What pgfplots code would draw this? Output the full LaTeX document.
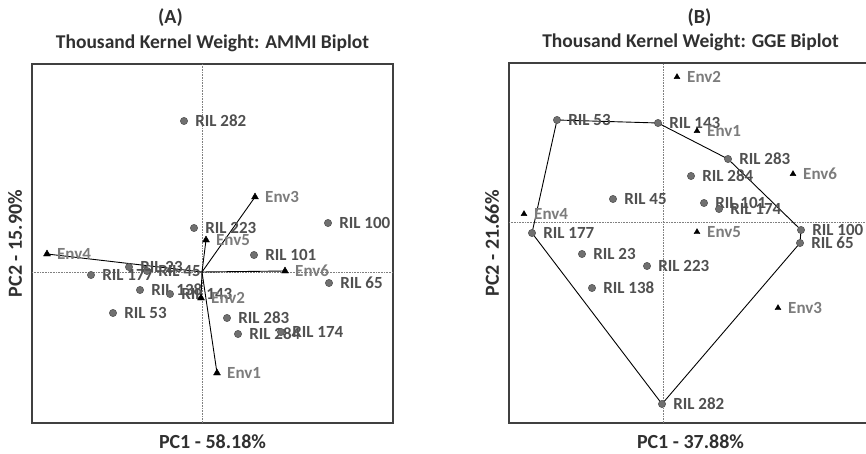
\documentclass[border=0pt]{standalone}
\usepackage{pgfplots}
\usepackage{pgfplotstable}
\pgfplotsset{compat=1.18}
\usepackage{fontspec}
\setmainfont{Carlito}
\definecolor{rilc}{HTML}{505050}
\definecolor{envc}{HTML}{7C7C7C}
\definecolor{dotf}{HTML}{707070}
\definecolor{dotd}{HTML}{555555}
\definecolor{framec}{HTML}{404040}
\definecolor{titc}{HTML}{303030}

\pgfplotstableread[col sep=comma]{
x,y,label
-1.8,15.1,RIL 282
-0.8,4.4,RIL 223
12.6,4.9,RIL 100
5.2,1.7,RIL 101
-7.3,0.5,RIL 23
-5.5,0.1,RIL 45
-11.1,-0.3,RIL 177
12.7,-1.1,RIL 65
-6.2,-1.8,RIL 138
-3.2,-2.2,RIL 143
-8.9,-4.1,RIL 53
2.5,-4.6,RIL 283
3.6,-6.2,RIL 284
7.9,-6.0,RIL 174
}\amGen
\pgfplotstableread[col sep=comma]{
x,y,label
5.3,7.5,Env3
0.4,3.2,Env5
-15.5,1.8,Env4
8.3,0.1,Env6
-0.1,-2.6,Env2
1.5,-10.1,Env1
}\amEnv
\pgfplotstableread[col sep=comma]{
x,y,label
-10.6,10.2,RIL 53
-0.5,9.9,RIL 143
6.5,6.3,RIL 283
2.8,4.6,RIL 284
-5.0,2.3,RIL 45
4.1,1.9,RIL 101
5.6,1.3,RIL 174
-13.1,-1.1,RIL 177
13.8,-0.8,RIL 100
13.7,-2.1,RIL 65
-8.1,-3.2,RIL 23
-1.6,-4.4,RIL 223
-7.1,-6.6,RIL 138
-0.1,-18.2,RIL 282
}\ggGen
\pgfplotstableread[col sep=comma]{
x,y,label
1.4,14.5,Env2
3.4,9.1,Env1
13.0,4.8,Env6
-13.9,0.8,Env4
3.4,-1.0,Env5
11.5,-8.6,Env3
}\ggEnv

\pgfplotsset{
  bip/.style={
    scale only axis, clip=false,
    xtick=\empty, ytick=\empty,
    axis line style={draw=framec, line width=1.3pt},
    label style={font=\bfseries\fontsize{20}{20}\selectfont, text=titc},
    title style={font=\bfseries\fontsize{19.5}{20}\selectfont, text=titc, at={(axis description cs:0.5,1)}, anchor=center, yshift=14.5pt},
  },
  genlab/.style={only marks, mark=*, mark size=3.6pt, mark options={fill=dotf, draw=dotd, line width=0.6pt},
    nodes near coords, point meta=explicit symbolic,
    every node near coord/.append style={anchor=west, inner sep=0pt, xshift=11pt, font=\bfseries\fontsize{17}{17}\selectfont, text=rilc}},
  envlab/.style={only marks, mark=triangle*, mark size=#1, mark options={fill=black, draw=black},
    nodes near coords, point meta=explicit symbolic,
    every node near coord/.append style={anchor=west, inner sep=0pt, xshift=10pt, font=\bfseries\fontsize{17}{17}\selectfont, text=envc}},
}

\begin{document}
\begin{tikzpicture}[x=1pt,y=1pt]
\path[use as bounding box] (0,0) rectangle (866,453);
\clip (0,0) rectangle (866,453);
% ---------------- Panel A ----------------
\begin{axis}[bip, at={(32,30)}, anchor=south west, width=361pt, height=359pt,
  xmin=-17.0, xmax=19.1, ymin=-15.1, ymax=20.8,
  title={Thousand Kernel Weight: AMMI Biplot},
  xlabel={PC1 - 58.18\%}, ylabel={PC2 - 15.90\%},
  xlabel style={at={(axis description cs:0.5,-0.053)}, anchor=center},
  ylabel style={at={(axis description cs:-0.047,0.5)}, anchor=center}]
\addplot[gray, densely dotted, line width=0.6pt] coordinates {(0,-15.1) (0,20.8)};
\addplot[gray, densely dotted, line width=0.6pt] coordinates {(-17.0,0) (19.1,0)};
\addplot[black, line width=0.9pt] coordinates {(0,0) (5.3,7.5)};
\addplot[black, line width=0.9pt] coordinates {(0,0) (0.4,3.2)};
\addplot[black, line width=0.9pt] coordinates {(0,0) (-15.5,1.8)};
\addplot[black, line width=0.9pt] coordinates {(0,0) (8.3,0.1)};
\addplot[black, line width=0.9pt] coordinates {(0,0) (-0.1,-2.6)};
\addplot[black, line width=0.9pt] coordinates {(0,0) (1.5,-10.1)};
\addplot[genlab] table[x=x, y=y, meta=label]{\amGen};
\addplot[envlab=4pt] table[x=x, y=y, meta=label]{\amEnv};
\node[font=\bfseries\fontsize{20}{20}\selectfont, text=titc, anchor=center] at (axis description cs:0.5,1) [xshift=-42pt, yshift=46pt] {(A)};
\end{axis}
% ---------------- Panel B ----------------
\begin{axis}[bip, at={(509,30)}, anchor=south west, width=363pt, height=360pt,
  xmin=-15.4, xmax=20.9, ymin=-20.1, ymax=15.9,
  title={Thousand Kernel Weight: GGE Biplot},
  xlabel={PC1 - 37.88\%}, ylabel={PC2 - 21.66\%},
  xlabel style={at={(axis description cs:0.5,-0.053)}, anchor=center},
  ylabel style={at={(axis description cs:-0.047,0.5)}, anchor=center}]
\addplot[gray, densely dotted, line width=0.6pt] coordinates {(0,-20.1) (0,15.9)};
\addplot[gray, densely dotted, line width=0.6pt] coordinates {(-15.4,0) (20.9,0)};
\addplot[black, line width=0.9pt] coordinates {(-10.6,10.2) (-0.5,9.9) (6.5,6.3) (13.8,-0.8) (13.7,-2.1) (-0.1,-18.2) (-13.1,-1.1) (-10.6,10.2)};
\addplot[genlab] table[x=x, y=y, meta=label]{\ggGen};
\addplot[envlab=3.4pt] table[x=x, y=y, meta=label]{\ggEnv};
\node[font=\bfseries\fontsize{20}{20}\selectfont, text=titc, anchor=center] at (axis description cs:0.5,1) [xshift=9pt, yshift=45pt] {(B)};
\end{axis}
\end{tikzpicture}
\end{document}
